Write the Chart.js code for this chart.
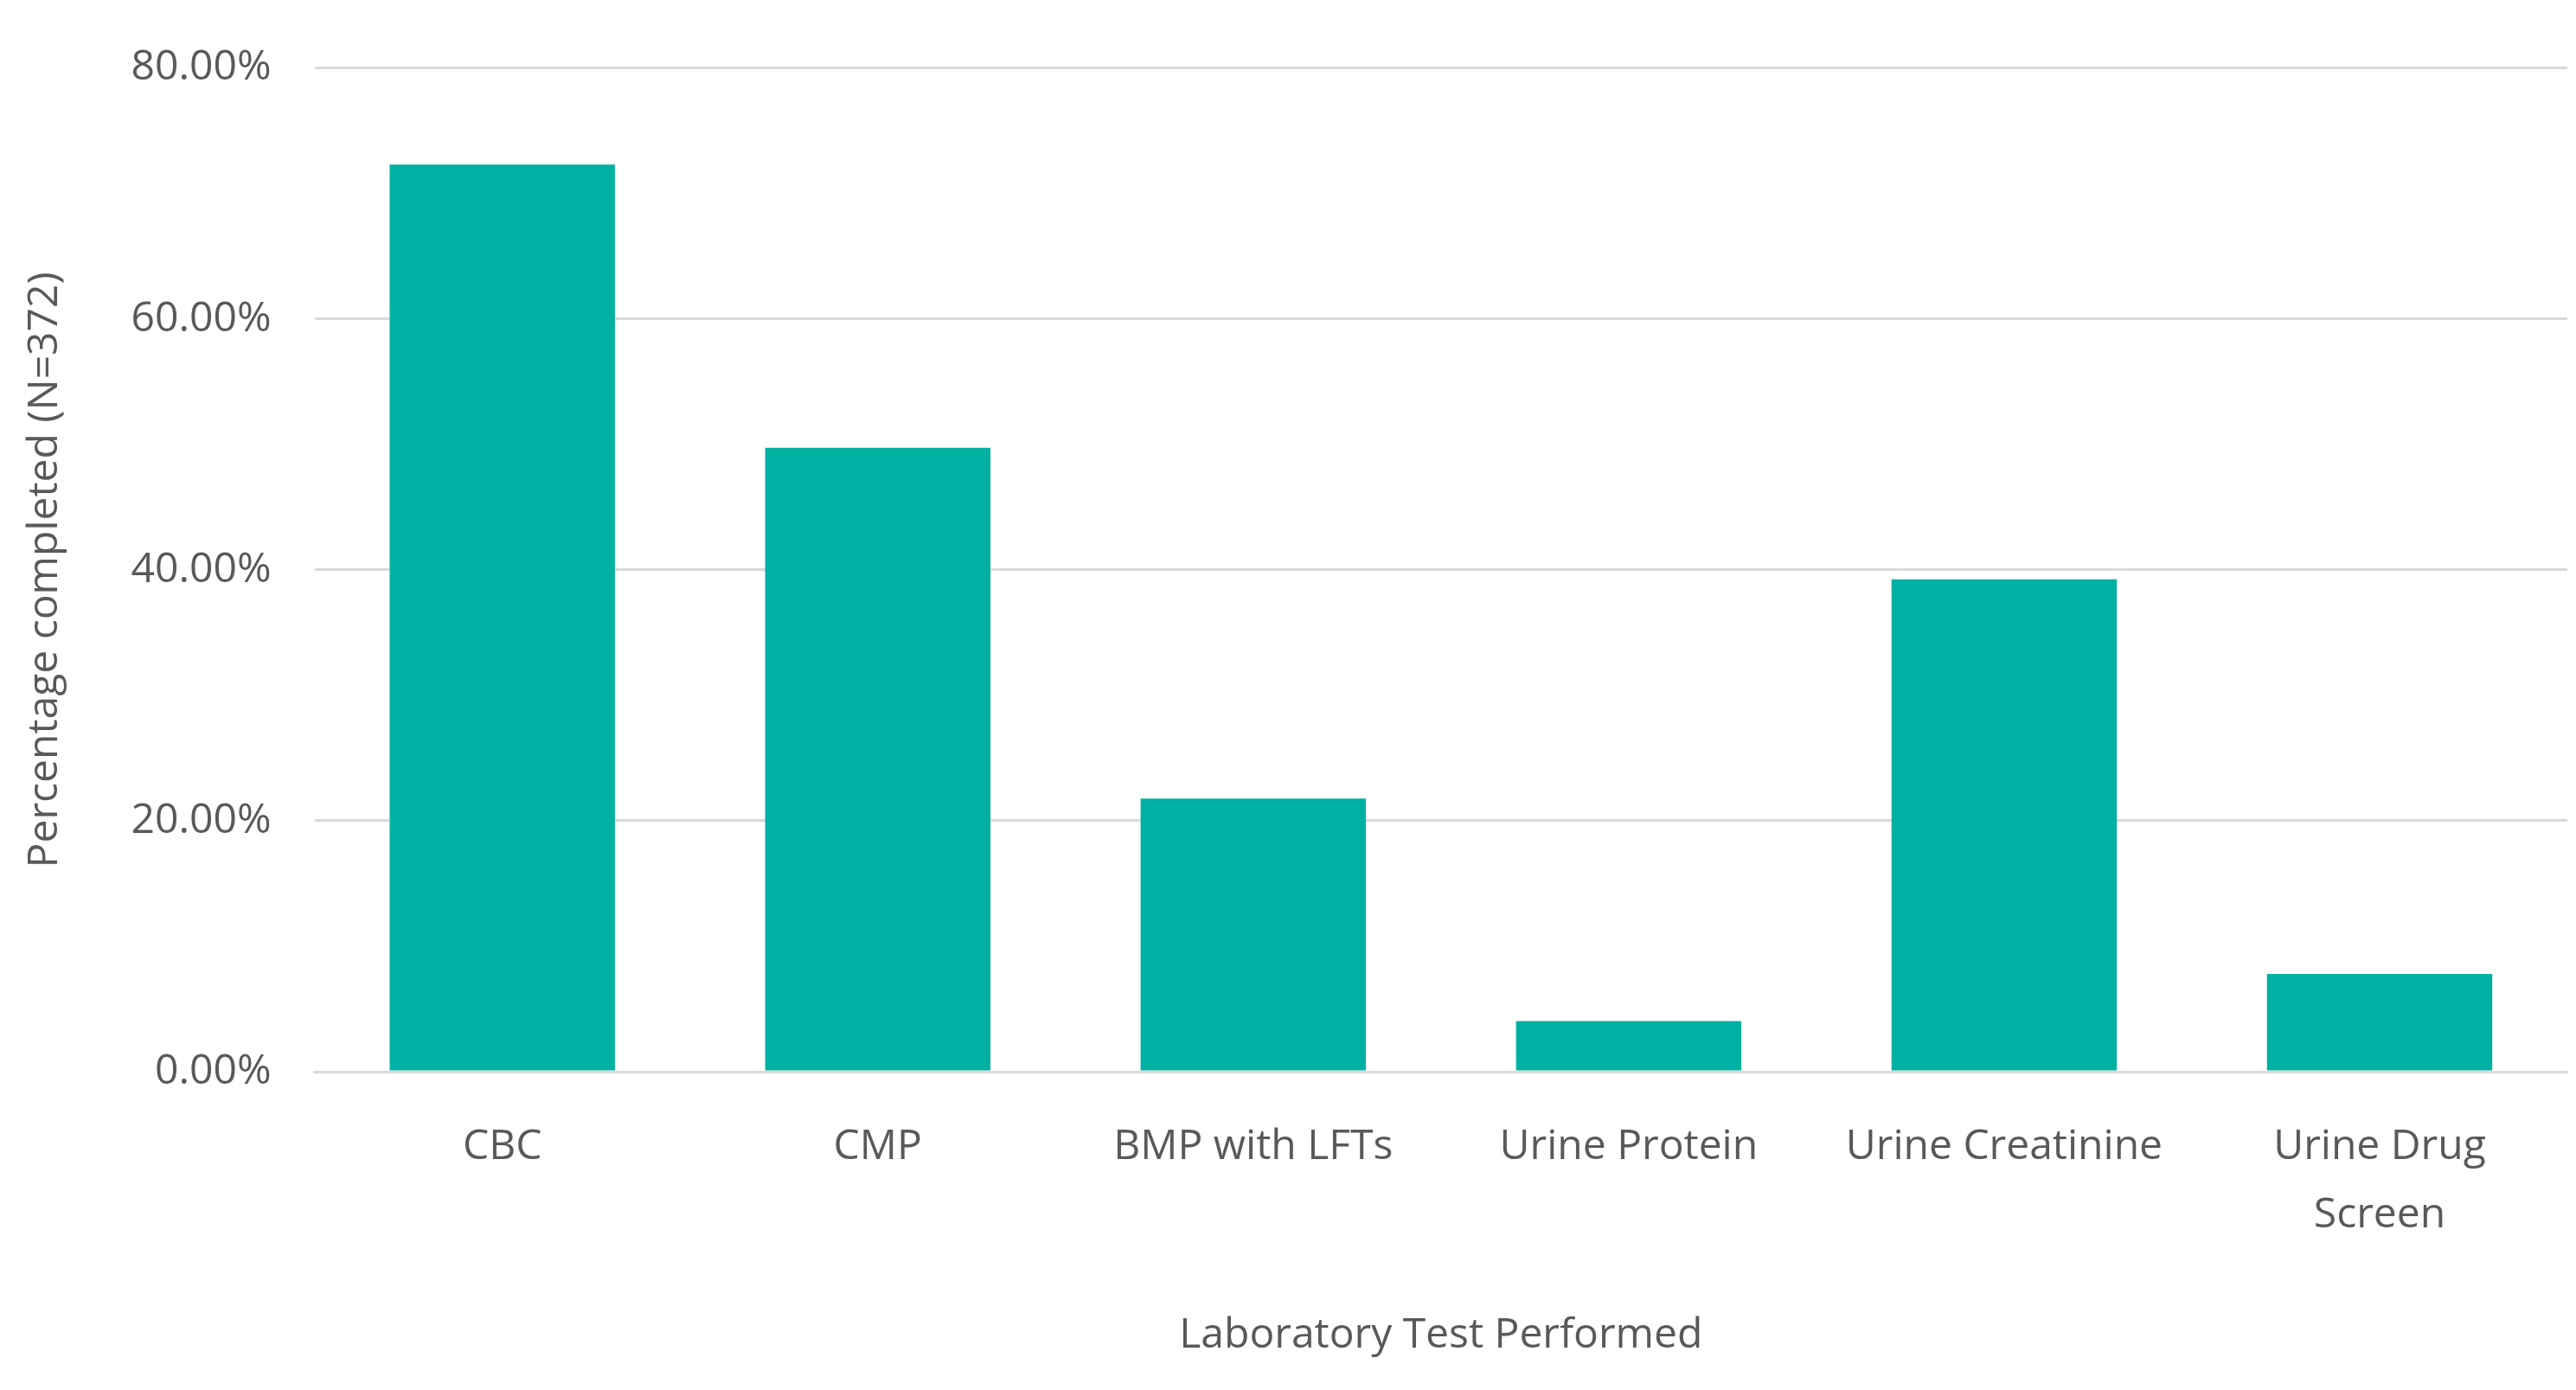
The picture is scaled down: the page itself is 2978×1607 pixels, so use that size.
<!DOCTYPE html>
<html lang="en">
<head>
<meta charset="UTF-8">
<title>Laboratory Test Performed</title>
<script src="https://cdn.jsdelivr.net/npm/chart.js"></script>
<style>
  body { margin: 0; background: #fff; }
  #wrap { width: 2978px; height: 1607px; }
</style>
</head>
<body>
<div id="wrap"><canvas id="chart"></canvas></div>
<script>
const categories = ['CBC', 'CMP', 'BMP with LFTs', 'Urine Protein', 'Urine Creatinine', ['Urine Drug', 'Screen']];
const percentCompleted = [72.31, 49.73, 21.77, 4.03, 39.25, 7.80];
const yTicks = [0, 20, 40, 60, 80];

const grey = '#595959';
const font = { family: '"Open Sans", sans-serif', size: 48 };

new Chart(document.getElementById('chart'), {
  type: 'bar',
  data: {
    labels: categories,
    datasets: [{
      data: percentCompleted,
      backgroundColor: '#00B0A3',
      categoryPercentage: 1,
      barPercentage: 0.6
    }]
  },
  options: {
    responsive: true,
    maintainAspectRatio: false,
    devicePixelRatio: 1,
    animation: false,
    layout: { padding: { top: 15, right: 10, bottom: 30, left: 20 } },
    plugins: { legend: { display: false }, tooltip: { enabled: false } },
    scales: {
      x: {
        grid: { display: false },
        border: { color: '#d9d9d9', width: 3 },
        ticks: { color: grey, font: { ...font, lineHeight: 1.65 }, padding: 40, maxRotation: 0 },
        title: { display: true, text: 'Laboratory Test Performed', color: grey, font: font, padding: { top: 30 } }
      },
      y: {
        min: 0, max: 80,
        afterBuildTicks: axis => { axis.ticks = yTicks.map(v => ({ value: v })); },
        grid: { color: '#d9d9d9', lineWidth: 3, drawTicks: false },
        border: { display: false },
        ticks: { color: grey, font: font, padding: 50, callback: v => v.toFixed(2) + '%' },
        title: { display: true, text: 'Percentage completed (N=372)', color: grey, font: font, padding: { bottom: 20 } }
      }
    }
  }
});
</script>
</body>
</html>
